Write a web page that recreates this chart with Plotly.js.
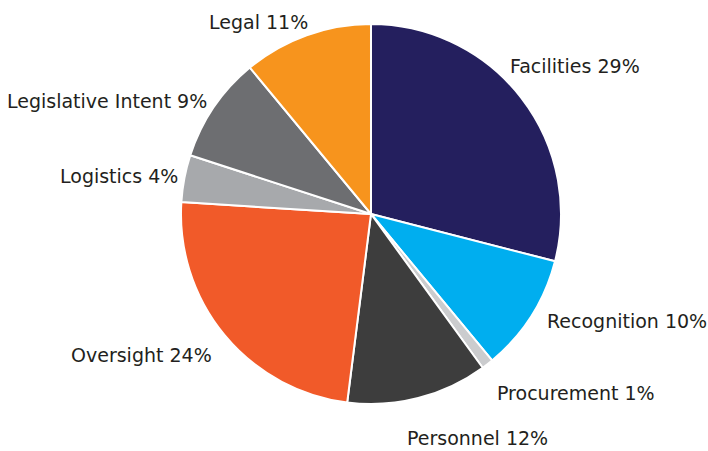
<!DOCTYPE html>
<html>
<head>
<meta charset="utf-8">
<script src="https://cdn.plot.ly/plotly-3.0.1.min.js"></script>
<style>html,body{margin:0;padding:0;background:#fff;}#chart{width:708px;height:451px;}</style>
</head>
<body>
<div id="chart"></div>
<script>
const categories = ["Facilities", "Recognition", "Procurement", "Personnel", "Oversight", "Logistics", "Legislative Intent", "Legal"];
const shares = [29, 10, 1, 12, 24, 4, 9, 11];
const colors = ["#241F5E", "#00AEEF", "#CBCCCE", "#3D3D3D", "#F15A29", "#A7A9AC", "#6D6E71", "#F7941D"];

// label placement (pixels in the 708x451 canvas) and anchor side
const labelX = [508, 545, 495, 405, 214, 180, 209, 207];
const labelY = [66, 321, 393, 438, 355, 176, 101, 22];
const labelAnchor = ["left", "left", "left", "left", "right", "right", "right", "left"];

const W = 708, H = 451;
const trace = {
  type: "pie",
  labels: categories,
  values: shares,
  sort: false,
  direction: "clockwise",
  rotation: 0,
  marker: {colors: colors, line: {color: "#ffffff", width: 2}},
  textinfo: "none",
  hoverinfo: "none",
  domain: {x: [0.2556, 0.7924], y: [0.1042, 0.9468]}
};
const annotations = categories.map((c, i) => ({
  xref: "paper", yref: "paper",
  x: labelX[i] / W, y: 1 - labelY[i] / H,
  xanchor: labelAnchor[i], yanchor: "middle",
  text: c + " " + shares[i] + "%",
  showarrow: false,
  font: {family: "DejaVu Sans, sans-serif", size: 19, color: "#231F20"}
}));
const layout = {
  width: W, height: H,
  margin: {l: 0, r: 0, t: 0, b: 0},
  showlegend: false,
  paper_bgcolor: "#ffffff",
  annotations: annotations
};
Plotly.newPlot("chart", [trace], layout, {displayModeBar: false, staticPlot: true});
</script>
</body>
</html>
